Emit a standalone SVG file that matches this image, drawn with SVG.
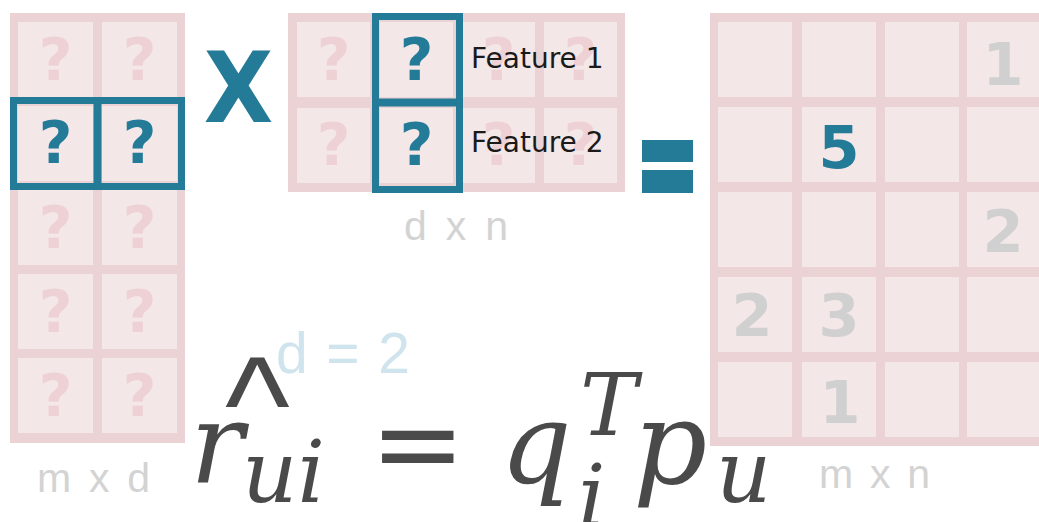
<svg xmlns="http://www.w3.org/2000/svg" width="1039" height="522" viewBox="0 0 1039 522">
<style>
.mat{fill:#ebd3d5}
.cell{fill:#f4e7e8}
.q{font-family:"DejaVu Sans",Verdana,sans-serif;font-weight:bold;font-size:58px;text-anchor:middle}
.qf{fill:#eed1d4}
.qb{fill:#237b97}
.hl{fill:none;stroke:#237b97;stroke-width:7}
.hline{stroke:#237b97;stroke-width:8}
.num{font-family:"DejaVu Sans",Verdana,sans-serif;font-weight:bold;font-size:59px;text-anchor:middle;fill:#d0d0d0}
.lbl{font-family:"Liberation Sans",Arial,sans-serif;font-size:41px;fill:#d3d3d3}
.feat{font-family:"DejaVu Sans",sans-serif;font-size:28px;fill:#1a1a1a}
.math{font-family:"DejaVu Serif",serif;font-style:italic;fill:#4a4a4a}
</style>
<rect width="1039" height="522" fill="#ffffff"/>

<g id="matrix-left">
<rect class="mat" x="10" y="13" width="175" height="430"/>
<rect class="cell" x="18" y="22" width="75" height="75"/><rect class="cell" x="102" y="22" width="75" height="75"/>
<rect class="cell" x="18" y="106" width="75" height="75"/><rect class="cell" x="102" y="106" width="75" height="75"/>
<rect class="cell" x="18" y="190" width="75" height="75"/><rect class="cell" x="102" y="190" width="75" height="75"/>
<rect class="cell" x="18" y="274" width="75" height="75"/><rect class="cell" x="102" y="274" width="75" height="75"/>
<rect class="cell" x="18" y="358" width="75" height="75"/><rect class="cell" x="102" y="358" width="75" height="75"/>
<text class="q qf" x="55.5" y="80">?</text><text class="q qf" x="139.5" y="80">?</text>
<text class="q qb" x="55.5" y="163">?</text><text class="q qb" x="139.5" y="163">?</text>
<text class="q qf" x="55.5" y="248">?</text><text class="q qf" x="139.5" y="248">?</text>
<text class="q qf" x="55.5" y="332">?</text><text class="q qf" x="139.5" y="332">?</text>
<text class="q qf" x="55.5" y="416">?</text><text class="q qf" x="139.5" y="416">?</text>
<rect class="hl" x="13.5" y="100.5" width="168" height="86"/>
<line class="hline" x1="97.5" y1="100" x2="97.5" y2="187"/>
<text class="lbl" x="37" y="492" textLength="113" lengthAdjust="spacing">m x d</text>
</g>

<g id="operator-times">
<text x="238.5" y="122" font-family="DejaVu Sans,Verdana,sans-serif" font-weight="bold" font-size="98" fill="#237b97" text-anchor="middle" transform="translate(238.5 0) scale(0.92 1) translate(-238.5 0)">X</text>
</g>

<g id="matrix-middle">
<rect class="mat" x="288" y="13" width="337" height="179"/>
<rect class="cell" x="297" y="22" width="73" height="75"/><rect class="cell" x="380" y="22" width="73" height="75"/><rect class="cell" x="462" y="22" width="73" height="75"/><rect class="cell" x="544" y="22" width="73" height="75"/>
<rect class="cell" x="297" y="108" width="73" height="75"/><rect class="cell" x="380" y="108" width="73" height="75"/><rect class="cell" x="462" y="108" width="73" height="75"/><rect class="cell" x="544" y="108" width="73" height="75"/>
<text class="q qf" x="333.5" y="80">?</text><text class="q qb" x="416.5" y="80">?</text><text class="q qf" x="498.5" y="80">?</text><text class="q qf" x="580.5" y="80">?</text>
<text class="q qf" x="333.5" y="165">?</text><text class="q qb" x="416.5" y="165">?</text><text class="q qf" x="498.5" y="165">?</text><text class="q qf" x="580.5" y="165">?</text>
<rect class="hl" x="375.5" y="16.5" width="84" height="173"/>
<line class="hline" x1="376" y1="102.5" x2="459" y2="102.5"/>
<text class="feat" x="471" y="68">Feature 1</text>
<text class="feat" x="471" y="152">Feature 2</text>
<text class="lbl" x="404" y="240" textLength="104" lengthAdjust="spacing">d x n</text>
</g>

<g id="operator-equals">
<rect x="642" y="140" width="51" height="22" fill="#237b97"/>
<rect x="642" y="170" width="51" height="23" fill="#237b97"/>
</g>

<g id="matrix-right">
<rect class="mat" x="710" y="13" width="340" height="433"/>
<g>
<rect class="cell" x="718" y="22" width="74" height="75"/><rect class="cell" x="802" y="22" width="74" height="75"/><rect class="cell" x="885" y="22" width="74" height="75"/><rect class="cell" x="967" y="22" width="74" height="75"/>
<rect class="cell" x="718" y="107" width="74" height="75"/><rect class="cell" x="802" y="107" width="74" height="75"/><rect class="cell" x="885" y="107" width="74" height="75"/><rect class="cell" x="967" y="107" width="74" height="75"/>
<rect class="cell" x="718" y="192" width="74" height="75"/><rect class="cell" x="802" y="192" width="74" height="75"/><rect class="cell" x="885" y="192" width="74" height="75"/><rect class="cell" x="967" y="192" width="74" height="75"/>
<rect class="cell" x="718" y="277" width="74" height="75"/><rect class="cell" x="802" y="277" width="74" height="75"/><rect class="cell" x="885" y="277" width="74" height="75"/><rect class="cell" x="967" y="277" width="74" height="75"/>
<rect class="cell" x="718" y="362" width="74" height="75"/><rect class="cell" x="802" y="362" width="74" height="75"/><rect class="cell" x="885" y="362" width="74" height="75"/><rect class="cell" x="967" y="362" width="74" height="75"/>
</g>
<text class="num" x="1003" y="85">1</text>
<text class="num" x="839" y="168" style="fill:#237b97">5</text>
<text class="num" x="1003" y="252">2</text>
<text class="num" x="752" y="336">2</text>
<text class="num" x="839" y="336">3</text>
<text class="num" x="840" y="423">1</text>
<text class="lbl" x="819" y="488" textLength="111" lengthAdjust="spacing">m x n</text>
</g>

<g id="dimension-note">
<text x="276" y="373" font-family="Liberation Sans,Arial,sans-serif" font-size="57" fill="#cfe4ed" textLength="134" lengthAdjust="spacing">d = 2</text>
</g>

<g id="formula">
<text x="225" y="452" font-family="Liberation Sans,Arial,sans-serif" font-size="138" fill="#4a4a4a">^</text>
<text class="math" x="190" y="483" font-size="112">r</text>
<text class="math" x="242" y="502" font-size="86">ui</text>
<text x="370" y="483" font-family="DejaVu Sans,sans-serif" font-size="114" fill="#4a4a4a">=</text>
<text class="math" x="500" y="483" font-size="112">q</text>
<text class="math" x="580" y="435" font-size="86">T</text>
<text class="math" x="578" y="526" font-size="86">i</text>
<text class="math" x="633" y="483" font-size="116">p</text>
<text class="math" x="716" y="502" font-size="86">u</text>
</g>

<g id="connectors"/>
</svg>
